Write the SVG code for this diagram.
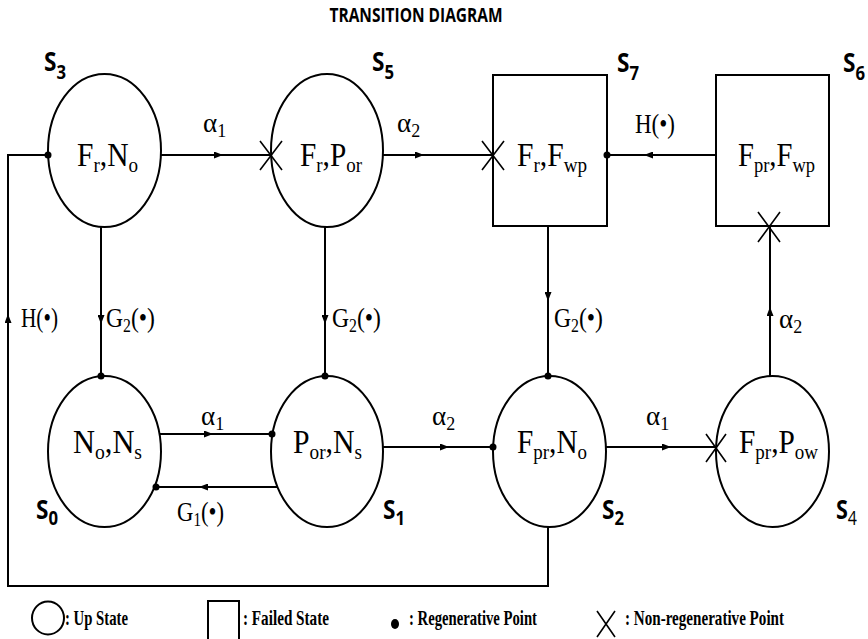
<svg xmlns="http://www.w3.org/2000/svg" width="868" height="639" viewBox="0 0 868 639">
<style>
.st{fill:#fff;stroke:#000;stroke-width:2}
.ln{fill:none;stroke:#000;stroke-width:2;marker-mid:url(#ah)}
.pl{fill:none;stroke:#000;stroke-width:2}
.x{stroke:#000;stroke-width:1.6}
.dot{fill:#000}
.nl{font-family:"Liberation Serif","Times New Roman",serif;font-size:34px;fill:#000}
.sb{font-size:22px}
.el{font-family:"Liberation Serif","Times New Roman",serif;font-size:27px;fill:#000}
.es{font-size:18px}
.sl{font-family:"Open Sans","DejaVu Sans",sans-serif;font-weight:bold;font-size:27px;fill:#000}
.ss{font-size:20px}
.lg{font-family:"Liberation Serif","Times New Roman",serif;font-weight:bold;font-size:21px;fill:#000}
.tt{font-family:"Open Sans","DejaVu Sans",sans-serif;font-weight:bold;font-size:19px;fill:#000}
</style>
<defs>
<marker id="ah" markerWidth="9" markerHeight="7" refX="8" refY="3.5" orient="auto" markerUnits="userSpaceOnUse">
<path d="M0,0 L9,3.5 L0,7 z" fill="#000"/>
</marker>
</defs>
<rect width="868" height="639" fill="#fff"/>
<text class="tt" x="416" y="22" text-anchor="middle" textLength="173" lengthAdjust="spacingAndGlyphs">TRANSITION DIAGRAM</text>

<g id="S3">
<ellipse class="st" cx="104.5" cy="150.5" rx="56.5" ry="76.5"/>
<text class="nl" x="77" y="166" textLength="61" lengthAdjust="spacingAndGlyphs">F<tspan class="sb" dy="6">r</tspan><tspan dy="-6">,N</tspan><tspan class="sb" dy="6">o</tspan></text>
<text class="sl" x="44" y="71" textLength="22" lengthAdjust="spacingAndGlyphs">S<tspan class="ss" dy="8">3</tspan></text>
</g>
<g id="S5">
<ellipse class="st" cx="327" cy="150.5" rx="56" ry="76.5"/>
<text class="nl" x="300" y="166" textLength="62" lengthAdjust="spacingAndGlyphs">F<tspan class="sb" dy="6">r</tspan><tspan dy="-6">,P</tspan><tspan class="sb" dy="6">or</tspan></text>
<text class="sl" x="372" y="71" textLength="22" lengthAdjust="spacingAndGlyphs">S<tspan class="ss" dy="8">5</tspan></text>
</g>
<g id="S7">
<rect class="st" x="493" y="75" width="114" height="151"/>
<text class="nl" x="517" y="166" textLength="70" lengthAdjust="spacingAndGlyphs">F<tspan class="sb" dy="6">r</tspan><tspan dy="-6">,F</tspan><tspan class="sb" dy="6">wp</tspan></text>
<text class="sl" x="617" y="72" textLength="22" lengthAdjust="spacingAndGlyphs">S<tspan class="ss" dy="8">7</tspan></text>
</g>
<g id="S6">
<rect class="st" x="716" y="75" width="113" height="151"/>
<text class="nl" x="738" y="166" textLength="77" lengthAdjust="spacingAndGlyphs">F<tspan class="sb" dy="6">pr</tspan><tspan dy="-6">,F</tspan><tspan class="sb" dy="6">wp</tspan></text>
<text class="sl" x="843" y="72" textLength="22" lengthAdjust="spacingAndGlyphs">S<tspan class="ss" dy="8">6</tspan></text>
</g>
<g id="S0">
<ellipse class="st" cx="104.5" cy="451.5" rx="56.5" ry="75.5"/>
<text class="nl" x="73" y="453" textLength="69" lengthAdjust="spacingAndGlyphs">N<tspan class="sb" dy="6">o</tspan><tspan dy="-6">,N</tspan><tspan class="sb" dy="6">s</tspan></text>
<text class="sl" x="36" y="519" textLength="22" lengthAdjust="spacingAndGlyphs">S<tspan class="ss" dy="6">0</tspan></text>
</g>
<g id="S1">
<ellipse class="st" cx="327" cy="451.5" rx="56" ry="75.5"/>
<text class="nl" x="293" y="453" textLength="69" lengthAdjust="spacingAndGlyphs">P<tspan class="sb" dy="6">or</tspan><tspan dy="-6">,N</tspan><tspan class="sb" dy="6">s</tspan></text>
<text class="sl" x="383" y="519" textLength="22" lengthAdjust="spacingAndGlyphs">S<tspan class="ss" dy="6">1</tspan></text>
</g>
<g id="S2">
<ellipse class="st" cx="549.5" cy="451.5" rx="56.5" ry="75.5"/>
<text class="nl" x="517" y="453" textLength="70" lengthAdjust="spacingAndGlyphs">F<tspan class="sb" dy="6">pr</tspan><tspan dy="-6">,N</tspan><tspan class="sb" dy="6">o</tspan></text>
<text class="sl" x="602" y="519" textLength="22" lengthAdjust="spacingAndGlyphs">S<tspan class="ss" dy="6">2</tspan></text>
</g>
<g id="S4">
<ellipse class="st" cx="772.5" cy="451.5" rx="56.5" ry="75.5"/>
<text class="nl" x="739" y="453" textLength="79" lengthAdjust="spacingAndGlyphs">F<tspan class="sb" dy="6">pr</tspan><tspan dy="-6">,P</tspan><tspan class="sb" dy="6">ow</tspan></text>
<text class="sl" x="836" y="519" textLength="21" lengthAdjust="spacingAndGlyphs">S<tspan class="ss" dy="6" font-weight="normal">4</tspan></text>
</g>

<g id="connectors">
<path class="ln" d="M161,155 L222,155 L271,155"/>
<path class="ln" d="M383,155 L423,155 L493,155"/>
<path class="ln" d="M716,155 L645,155 L607,155"/>
<path class="ln" d="M101,227 L101,323 L101,376"/>
<path class="ln" d="M325,227 L325,323 L325,376"/>
<path class="ln" d="M548,226 L548,300 L548,376"/>
<path class="ln" d="M770,376 L770,308 L770,227"/>
<path class="ln" d="M159,434 L212,434 L272,434"/>
<path class="ln" d="M278,487 L200,487 L155,487"/>
<path class="ln" d="M383,447 L448,447 L493,447"/>
<path class="ln" d="M606,447 L670,447 L716,447"/>
<path class="pl" d="M548,527 L548,586 L8,586 L8,155 L48,155"/>
<path class="ln" d="M8,400 L8,315 L8,250"/>
<g class="x">
<path d="M260,141 L282,170 M282,141 L260,170"/>
<path d="M482,141 L504,170 M504,141 L482,170"/>
<path d="M758,212 L780,242 M780,212 L758,242"/>
<path d="M706,434 L726,462 M726,434 L706,462"/>
</g>
<g class="dot">
<circle cx="48" cy="155" r="3.5"/>
<circle cx="607" cy="155" r="3.5"/>
<circle cx="101" cy="376" r="3.5"/>
<circle cx="325" cy="376" r="3.5"/>
<circle cx="548" cy="376" r="3.5"/>
<circle cx="272" cy="434" r="3.5"/>
<circle cx="156" cy="487" r="3.5"/>
<circle cx="493" cy="447" r="3.5"/>
</g>
<text class="el" x="203" y="132">α<tspan class="es" dy="5">1</tspan></text>
<text class="el" x="397" y="132">α<tspan class="es" dy="5">2</tspan></text>
<text class="el" x="635" y="133" textLength="40" lengthAdjust="spacingAndGlyphs">H(•)</text>
<text class="el" x="21" y="327" textLength="37" lengthAdjust="spacingAndGlyphs">H(•)</text>
<text class="el" x="106" y="327" textLength="49" lengthAdjust="spacingAndGlyphs">G<tspan class="es" dy="5">2</tspan><tspan dy="-5">(•)</tspan></text>
<text class="el" x="332" y="327" textLength="49" lengthAdjust="spacingAndGlyphs">G<tspan class="es" dy="5">2</tspan><tspan dy="-5">(•)</tspan></text>
<text class="el" x="554" y="327" textLength="49" lengthAdjust="spacingAndGlyphs">G<tspan class="es" dy="5">2</tspan><tspan dy="-5">(•)</tspan></text>
<text class="el" x="779" y="328">α<tspan class="es" dy="5">2</tspan></text>
<text class="el" x="201" y="425">α<tspan class="es" dy="5">1</tspan></text>
<text class="el" x="432" y="425">α<tspan class="es" dy="5">2</tspan></text>
<text class="el" x="646" y="425">α<tspan class="es" dy="5">1</tspan></text>
<text class="el" x="177" y="521" textLength="47" lengthAdjust="spacingAndGlyphs">G<tspan class="es" dy="5">1</tspan><tspan dy="-5">(•)</tspan></text>
</g>

<g id="legend">
<ellipse class="st" cx="48" cy="618" rx="16" ry="16.5"/>
<text class="lg" x="65" y="625" textLength="63" lengthAdjust="spacingAndGlyphs">: Up State</text>
<rect class="st" x="208" y="601" width="31" height="50"/>
<text class="lg" x="243" y="625" textLength="86" lengthAdjust="spacingAndGlyphs">: Failed State</text>
<ellipse class="dot" cx="395" cy="624" rx="4" ry="5"/>
<text class="lg" x="409" y="625" textLength="128" lengthAdjust="spacingAndGlyphs">: Regenerative Point</text>
<path class="x" d="M597,611 L615,637 M615,611 L597,637"/>
<text class="lg" x="625" y="625" textLength="159" lengthAdjust="spacingAndGlyphs">: Non-regenerative Point</text>
</g>
</svg>
